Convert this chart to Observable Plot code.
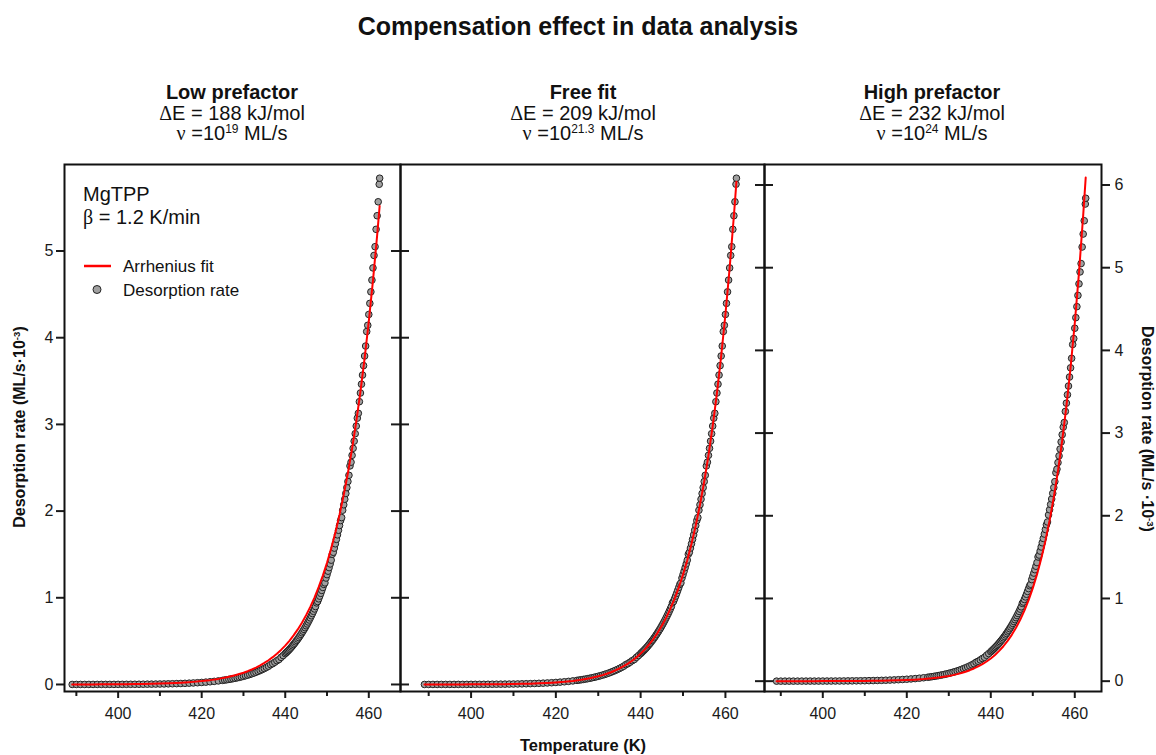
<!DOCTYPE html>
<html>
<head>
<meta charset="utf-8">
<script src="https://cdn.jsdelivr.net/npm/d3@7"></script>
<script src="https://cdn.jsdelivr.net/npm/@observablehq/plot@0.6"></script>
<style>
  body { margin: 0; background: #fff; }
  #chart { position: relative; width: 1156px; height: 755px; overflow: hidden;
           font-family: "Liberation Sans", Arial, sans-serif; color: #111; background: #fff; }
  .abs { position: absolute; white-space: nowrap; line-height: 1; }
  .ctr { transform: translateX(-50%); text-align: center; }
  .greek { font-family: "Liberation Serif", "DejaVu Serif", serif; }
  .sup { font-size: 0.6em; position: relative; top: -0.55em; }
  .layer { position: absolute; left: 0; top: 150px; }
</style>
</head>
<body>
<div id="chart"></div>
<script>
// ---------------- data ----------------
const temperature = [
  389, 390, 391, 392, 393, 394, 395, 396, 397, 398, 399, 400, 401, 402, 403, 404, 405, 406, 407, 408,
  409, 410, 411, 412, 413, 414, 415, 416, 417, 418, 419, 420, 421, 422, 423, 424,
  425, 425.5, 426, 426.5, 427, 427.5, 428, 428.5, 429, 429.5, 430, 430.5, 431, 431.5, 432, 432.5,
  433, 433.5, 434, 434.5, 435, 435.5, 436, 436.5, 437, 437.5, 438, 438.5, 439, 439.5,
  440, 440.25, 440.5, 440.75, 441, 441.25, 441.5, 441.75, 442, 442.25, 442.5, 442.75,
  443, 443.25, 443.5, 443.75, 444, 444.25, 444.5, 444.75, 445, 445.25, 445.5, 445.75,
  446, 446.25, 446.5, 446.75, 447, 447.25, 447.5, 447.75, 448, 448.25, 448.5, 448.75,
  449, 449.25, 449.5, 449.75, 450, 450.25, 450.5, 450.75, 451, 451.25, 451.5, 451.75,
  452, 452.25, 452.5, 452.75, 453, 453.25, 453.5, 453.75, 454, 454.25, 454.5, 454.75,
  455, 455.25, 455.5, 455.75, 456, 456.25, 456.5, 456.75, 457, 457.25, 457.5, 457.75,
  458, 458.25, 458.5, 458.75, 459, 459.25, 459.5, 459.75, 460, 460.25, 460.5, 460.75,
  461, 461.25, 461.5, 461.75, 462, 462.25, 462.5, 462.6
];
const rate = [
  0.0002, 0.0002, 0.0003, 0.0003, 0.0004, 0.0005, 0.0006, 0.0007, 0.0008, 0.0009, 0.0010, 0.0012, 0.0014, 0.0016, 0.0019, 0.0022, 0.0026, 0.0030, 0.0035, 0.0040,
  0.0047, 0.0054, 0.0063, 0.0073, 0.0085, 0.0098, 0.0114, 0.0132, 0.0152, 0.0176, 0.0203, 0.0234, 0.0270, 0.0311, 0.0358, 0.0412,
  0.0474, 0.0508, 0.0545, 0.0584, 0.0625, 0.0670, 0.0718, 0.0769, 0.0823, 0.0881, 0.0943, 0.1009, 0.1080, 0.1155, 0.1236, 0.1322,
  0.1414, 0.1512, 0.1616, 0.1727, 0.1846, 0.1973, 0.2108, 0.2290, 0.2405, 0.2568, 0.2742, 0.2880, 0.3125, 0.3335,
  0.356, 0.368, 0.380, 0.392, 0.405, 0.418, 0.432, 0.446, 0.461, 0.476, 0.492, 0.508,
  0.524, 0.541, 0.559, 0.577, 0.596, 0.615, 0.635, 0.655, 0.677, 0.698, 0.721, 0.744,
  0.768, 0.793, 0.818, 0.844, 0.871, 0.899, 0.941, 0.957, 0.988, 1.019, 1.051, 1.085,
  1.119, 1.154, 1.172, 1.228, 1.267, 1.307, 1.348, 1.390, 1.434, 1.502, 1.525, 1.573,
  1.623, 1.674, 1.726, 1.779, 1.834, 1.891, 1.925, 2.010, 2.073, 2.137, 2.203, 2.271,
  2.341, 2.413, 2.521, 2.564, 2.643, 2.724, 2.807, 2.893, 2.981, 3.072, 3.128, 3.262,
  3.362, 3.464, 3.569, 3.678, 3.789, 3.904, 4.071, 4.143, 4.268, 4.396, 4.529, 4.665,
  4.805, 4.949, 5.050, 5.250, 5.407, 5.568, 5.770, 5.840
];

const fitTemperature = [
  389, 390, 392, 394, 396, 398, 400, 402, 404, 406, 408, 410, 412, 414, 416, 418, 420, 422, 424, 426, 428,
  430, 431, 432, 433, 434, 435, 436, 437, 438, 439, 440, 441, 442, 443, 444, 445, 446, 447, 448, 449,
  450, 451, 452, 453, 454, 455, 456, 457, 458, 459, 460, 461, 462, 462.6
];
const fitLow = [
  0.0005, 0.0006, 0.0008, 0.0011, 0.0015, 0.0020, 0.0026, 0.0035, 0.0046, 0.0061, 0.0080, 0.0104, 0.0136, 0.0178, 0.0231, 0.0300, 0.0388, 0.0501, 0.0645, 0.0828, 0.1061,
  0.1357, 0.1533, 0.1731, 0.1953, 0.2203, 0.2483, 0.2798, 0.3150, 0.3545, 0.3988, 0.4483, 0.5037, 0.5656, 0.6349, 0.7122, 0.7986, 0.8949, 1.0025, 1.1223, 1.2558,
  1.4045, 1.570, 1.754, 1.959, 2.187, 2.440, 2.721, 3.033, 3.378, 3.762, 4.188, 4.659, 5.181, 5.52
];
const fitFree = [
  0.0002, 0.0002, 0.0003, 0.0005, 0.0007, 0.0009, 0.0012, 0.0016, 0.0022, 0.0030, 0.0040, 0.0054, 0.0073, 0.0098, 0.0132, 0.0176, 0.0234, 0.0311, 0.0412, 0.0545, 0.0718,
  0.0943, 0.1080, 0.1236, 0.1414, 0.1616, 0.1846, 0.2108, 0.2405, 0.2742, 0.3125, 0.3560, 0.4052, 0.4610, 0.5242, 0.5957, 0.6765, 0.768, 0.871, 0.9875, 1.119,
  1.267, 1.434, 1.623, 1.834, 2.073, 2.341, 2.643, 2.981, 3.362, 3.789, 4.268, 4.805, 5.407, 5.80
];
const fitHigh = [
  0.0001, 0.0001, 0.0001, 0.0002, 0.0003, 0.0004, 0.0005, 0.0007, 0.0010, 0.0014, 0.0019, 0.0027, 0.0037, 0.0051, 0.0071, 0.0098, 0.0134, 0.0184, 0.0251, 0.0342, 0.0464,
  0.0629, 0.0731, 0.0849, 0.0986, 0.1144, 0.1326, 0.1536, 0.1778, 0.2057, 0.2378, 0.2748, 0.3173, 0.3661, 0.4222, 0.4866, 0.5604, 0.6450, 0.7420, 0.8529, 0.9798,
  1.1249, 1.291, 1.480, 1.696, 1.943, 2.224, 2.544, 2.908, 3.323, 3.795, 4.331, 4.940, 5.632, 6.09
];

const xMajorTicks = [400, 420, 440, 460];
const xMinorTicks = [390, 410, 430, 450];
const yTicksLeft = [0, 1, 2, 3, 4, 5];
const yTicksRight = [0, 1, 2, 3, 4, 5, 6];

const panelNames = ["Low prefactor", "Free fit", "High prefactor"];
const panelEnergies = ["188", "209", "232"];
const panelExponents = ["19", "21.3", "24"];

// ---------------- layout ----------------
const chart = document.getElementById("chart");
function addText(html, style, cls = "abs") {
  const d = document.createElement("div");
  d.className = cls;
  d.innerHTML = html;
  Object.assign(d.style, style);
  chart.appendChild(d);
  return d;
}

addText("Compensation effect in data analysis",
  {left: "578px", top: "14px", fontSize: "25px", fontWeight: "bold"}, "abs ctr");

const headingCenters = [232, 583, 932];
panelNames.forEach((name, i) => {
  addText(
    `<div style="font-weight:bold">${name}</div>` +
    `<div><span class="greek">Δ</span>E = ${panelEnergies[i]} kJ/mol</div>` +
    `<div><span class="greek">ν</span> =10<span class="sup">${panelExponents[i]}</span> ML/s</div>`,
    {left: headingCenters[i] + "px", top: "82px", fontSize: "20px", lineHeight: "20.5px"}, "abs ctr");
});

const points = temperature.map((t, i) => ({temperature: t, rate: rate[i]}));
const fitRows = values => fitTemperature.map((t, i) => ({temperature: t, rate: values[i]}));
const intFmt = d3.format("d");
const blank = () => "";

const panels = [
  {fit: fitLow, marginLeft: 64, marginRight: 756, x: [387.16, 467.59], y: [-0.081, 5.998], kind: "left"},
  {fit: fitFree, marginLeft: 400, marginRight: 392, x: [383.35, 469.22], y: [-0.081, 5.998], kind: "middle"},
  {fit: fitHigh, marginLeft: 764, marginRight: 55, x: [386.12, 466.36], y: [-0.125, 6.248], kind: "right"}
];

panels.forEach(p => {
  const yAxes = [];
  if (p.kind === "left") {
    yAxes.push(Plot.axisY(yTicksLeft, {anchor: "left", tickSize: 8, tickPadding: 3, strokeWidth: 2, tickFormat: intFmt, label: null}));
  } else if (p.kind === "middle") {
    yAxes.push(Plot.axisY(yTicksLeft, {anchor: "left", tickSize: 18, dx: 9, strokeWidth: 2, tickFormat: blank, label: null}));
  } else {
    yAxes.push(Plot.axisY(yTicksRight, {anchor: "left", tickSize: 18, dx: 9, strokeWidth: 2, tickFormat: blank, label: null}));
    yAxes.push(Plot.axisY(yTicksRight, {anchor: "right", tickSize: 8, tickPadding: 5, strokeWidth: 2, tickFormat: intFmt, label: null}));
  }
  const svg = Plot.plot({
    width: 1156, height: 600,
    marginLeft: p.marginLeft, marginRight: p.marginRight, marginTop: 14, marginBottom: 59,
    x: {domain: p.x},
    y: {domain: p.y},
    style: {overflow: "visible", fontFamily: "'Liberation Sans', Arial, sans-serif", fontSize: "16px", color: "#1a1a1a", background: "transparent"},
    marks: [
      Plot.axisX(xMajorTicks, {tickSize: 7, tickPadding: 9, strokeWidth: 2, tickFormat: intFmt, label: null}),
      Plot.axisX(xMinorTicks, {tickSize: 5, strokeWidth: 2, tickFormat: blank, label: null}),
      ...yAxes,
      Plot.dot(points, {x: "temperature", y: "rate", r: 3.3, fill: "#a0a0a0", stroke: "#222", strokeWidth: 1}),
      Plot.line(fitRows(p.fit), {x: "temperature", y: "rate", stroke: "#ff0000", strokeWidth: 2}),
      Plot.frame({stroke: "#111", strokeWidth: 2})
    ]
  });
  const wrap = document.createElement("div");
  wrap.className = "layer";
  wrap.appendChild(svg);
  chart.appendChild(wrap);
});

// axis titles
addText("Temperature (K)", {left: "583px", top: "737px", fontSize: "16.5px", fontWeight: "bold"}, "abs ctr");
addText("Desorption rate (ML/s·10<span class=\"sup\">-3</span>)",
  {left: "20px", top: "427px", fontSize: "16px", fontWeight: "bold", transform: "translate(-50%,-50%) rotate(-90deg)"});
addText("Desorption rate (ML/s ·10<span class=\"sup\">-3</span>)",
  {left: "1147px", top: "429px", fontSize: "16px", fontWeight: "bold", transform: "translate(-50%,-50%) rotate(90deg)"});

// annotation + legend inside left panel
addText("MgTPP", {left: "83px", top: "184px", fontSize: "20px"});
addText("<span class=\"greek\">β</span> = 1.2 K/min", {left: "83px", top: "207px", fontSize: "20px"});
const leg = document.createElementNS("http://www.w3.org/2000/svg", "svg");
leg.setAttribute("width", "40"); leg.setAttribute("height", "40");
leg.style.position = "absolute"; leg.style.left = "80px"; leg.style.top = "256px";
leg.innerHTML = '<line x1="4" x2="31" y1="10" y2="10" stroke="#ff0000" stroke-width="2.5"/>' +
                '<circle cx="17" cy="33.5" r="4" fill="#a0a0a0" stroke="#222" stroke-width="1"/>';
chart.appendChild(leg);
addText("Arrhenius fit", {left: "123px", top: "258px", fontSize: "17px"});
addText("Desorption rate", {left: "123px", top: "281.5px", fontSize: "17px"});
</script>
</body>
</html>
